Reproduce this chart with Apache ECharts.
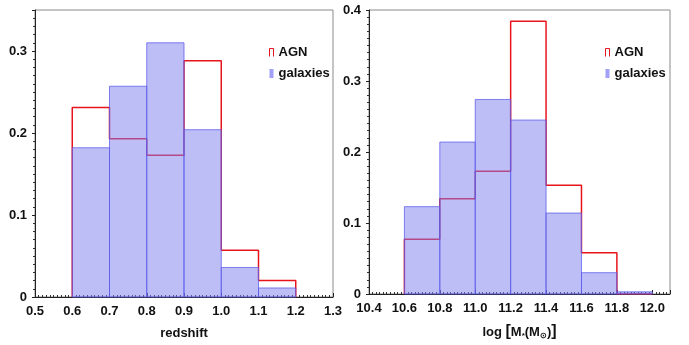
<!DOCTYPE html>
<html>
<head>
<meta charset="utf-8">
<script src="https://cdn.jsdelivr.net/npm/echarts@6/dist/echarts.min.js"></script>
<style>html,body{margin:0;padding:0;background:#fff}#c{width:689px;height:345px}</style>
</head>
<body>
<div id="c"></div>
<script>
// Left panel: redshift histogram
const zBinEdges = [0.6, 0.7, 0.8, 0.9, 1.0, 1.1, 1.2];
const zAgn = [0.231, 0.193, 0.173, 0.288, 0.057, 0.020];
const zGal = [0.182, 0.257, 0.310, 0.204, 0.036, 0.011];
// Right panel: stellar mass histogram
const mBinEdges = [10.6, 10.8, 11.0, 11.2, 11.4, 11.6, 11.8, 12.0];
const mAgn = [0.077, 0.134, 0.173, 0.384, 0.153, 0.058, 0.0];
const mGal = [0.123, 0.214, 0.274, 0.245, 0.114, 0.030, 0.003];

const FONT = '"Liberation Sans", Arial, sans-serif';
const RED = '#e8141c';
const GAL_FILL = 'rgba(125,125,240,0.5)';
const GAL_EDGE = 'rgba(90,90,235,0.75)';

function stepPoints(edges, vals) {
  const pts = [[edges[0], 0]];
  for (let i = 0; i < vals.length; i++) {
    pts.push([edges[i], vals[i]]);
    pts.push([edges[i + 1], vals[i]]);
  }
  pts.push([edges[edges.length - 1], 0]);
  return pts;
}
function barData(edges, vals) {
  return vals.map((v, i) => [edges[i], edges[i + 1], v]);
}
function renderBar(params, api) {
  const p0 = api.coord([api.value(0), api.value(2)]);
  const p1 = api.coord([api.value(1), 0]);
  return {
    type: 'rect',
    shape: { x: p0[0], y: p0[1], width: p1[0] - p0[0], height: p1[1] - p0[1] },
    style: { fill: GAL_FILL, stroke: GAL_EDGE, lineWidth: 1 }
  };
}

const labelStyle = { color: '#111', fontFamily: FONT, fontWeight: 'bold', fontSize: 13 };

function xAxis(idx, min, max, interval, name, nameGap) {
  return {
    type: 'value', gridIndex: idx, min: min, max: max, interval: interval,
    name: name, nameLocation: 'middle', nameGap: nameGap,
    nameTextStyle: { color: '#111', fontFamily: FONT, fontWeight: 'bold', fontSize: 13,
      rich: { sub: { fontSize: 8, fontFamily: FONT, fontWeight: 'bold', color: '#111', verticalAlign: 'bottom', padding: [8, 0, 0, 0] },
              n: { fontSize: 13, fontFamily: FONT, fontWeight: 'bold', color: '#111' },
              br: { fontSize: 16, fontFamily: FONT, color: '#111' } } },
    axisLine: { show: true, lineStyle: { color: '#222', width: 1 } },
    axisTick: { show: true, inside: true, length: 4, lineStyle: { color: '#222' } },
    minorTick: { show: true, splitNumber: 10, length: 2, lineStyle: { color: '#333' } },
    axisLabel: Object.assign({ margin: 8, showMaxLabel: idx === 0, formatter: v => v.toFixed(1) }, labelStyle),
    splitLine: { show: false }
  };
}
function yAxis(idx, max) {
  return {
    type: 'value', gridIndex: idx, min: 0, max: max, interval: 0.1,
    axisLine: { show: true, lineStyle: { color: '#222', width: 1 } },
    axisTick: { show: true, inside: false, length: 3, lineStyle: { color: '#222' } },
    minorTick: { show: true, splitNumber: 10, length: 2, lineStyle: { color: '#333' } },
    axisLabel: Object.assign({ margin: 8, showMaxLabel: idx === 1, formatter: v => v === 0 ? '0' : v.toFixed(1) }, labelStyle),
    splitLine: { show: false }
  };
}

const agnIcon = 'path://M0,20 L0,0 L10,0 L10,20';
function legend(left) {
  return {
    left: left, top: 41, orient: 'vertical', itemGap: 8, itemWidth: 4, itemHeight: 9,
    textStyle: { color: '#111', fontFamily: FONT, fontWeight: 'bold', fontSize: 13 },
    selectedMode: false,
    data: [
      { name: 'AGN', icon: agnIcon, itemStyle: { color: 'rgba(0,0,0,0)', borderColor: RED, borderWidth: 1 } },
      { name: 'galaxies', icon: 'rect', itemStyle: { color: 'rgba(110,110,245,0.65)', borderWidth: 0 } }
    ]
  };
}

const chart = echarts.init(document.getElementById('c'), null, { renderer: 'canvas' });
chart.setOption({
  animation: false,
  backgroundColor: '#fff',
  grid: [
    { left: 35, right: 356, top: 10, bottom: 46, show: true, borderColor: '#8a8a8a', borderWidth: 1, backgroundColor: 'transparent' },
    { left: 369, right: 19, top: 10, bottom: 51, show: true, borderColor: '#8a8a8a', borderWidth: 1, backgroundColor: 'transparent' }
  ],
  xAxis: [
    xAxis(0, 0.5, 1.3, 0.1, 'redshift', 30),
    xAxis(1, 10.4, 12.1, 0.2, '{n|log }{br|[}{n|M}{sub|*}{n|(M}{sub|⊙}{n|)}{br|]}', 30)
  ],
  yAxis: [yAxis(0, 0.35), yAxis(1, 0.4)],
  legend: [legend(264), legend(600)],
  series: [
    { name: 'AGN', type: 'line', xAxisIndex: 0, yAxisIndex: 0, data: stepPoints(zBinEdges, zAgn),
      showSymbol: false, symbol: 'none', lineStyle: { color: RED, width: 1.5 }, itemStyle: { color: RED }, z: 2 },
    { name: 'galaxies', type: 'custom', xAxisIndex: 0, yAxisIndex: 0, data: barData(zBinEdges, zGal),
      renderItem: renderBar, itemStyle: { color: GAL_FILL }, z: 3 },
    { name: 'AGN', type: 'line', xAxisIndex: 1, yAxisIndex: 1, data: stepPoints(mBinEdges, mAgn),
      showSymbol: false, symbol: 'none', lineStyle: { color: RED, width: 1.5 }, itemStyle: { color: RED }, z: 2 },
    { name: 'galaxies', type: 'custom', xAxisIndex: 1, yAxisIndex: 1, data: barData(mBinEdges, mGal),
      renderItem: renderBar, itemStyle: { color: GAL_FILL }, z: 3 }
  ]
});
</script>
</body>
</html>
